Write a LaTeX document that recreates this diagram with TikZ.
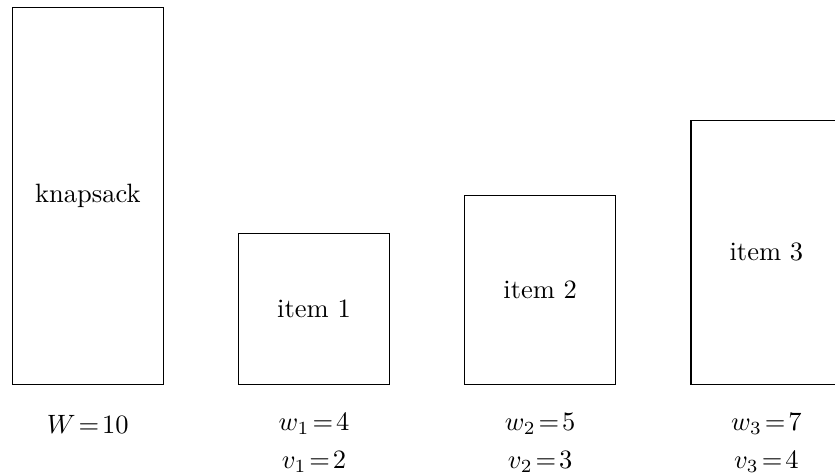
\documentclass[tikz,border=0pt]{standalone}
\begin{document}
\begin{tikzpicture}[x=0.5cm,y=0.5cm,
  box/.style={draw, rectangle, inner sep=0pt, minimum width=2cm},
  lab/.style={inner sep=0pt}]
\useasboundingbox (-0.33,-2.39) rectangle (21.82,10.19);
\node[box, minimum height=5cm] (k) at (2,5) {knapsack};
\node[box, minimum height=2cm] (i1) at (8,2) {item 1};
\node[box, minimum height=2.5cm] (i2) at (14,2.5) {item 2};
\node[box, minimum height=3.5cm] (i3) at (20,3.5) {item 3};
\node[lab] (lW) at (2,-1.06) {$W\!=\!10$};
\node[lab] (lw1) at (8,-1.06) {$w_1\!=\!4$};
\node[lab] (lv1) at (8,-2.06) {$v_1\!=\!2$};
\node[lab] (lw2) at (14,-1.06) {$w_2\!=\!5$};
\node[lab] (lv2) at (14,-2.06) {$v_2\!=\!3$};
\node[lab] (lw3) at (20,-1.06) {$w_3\!=\!7$};
\node[lab] (lv3) at (20,-2.06) {$v_3\!=\!4$};
\end{tikzpicture}
\end{document}
